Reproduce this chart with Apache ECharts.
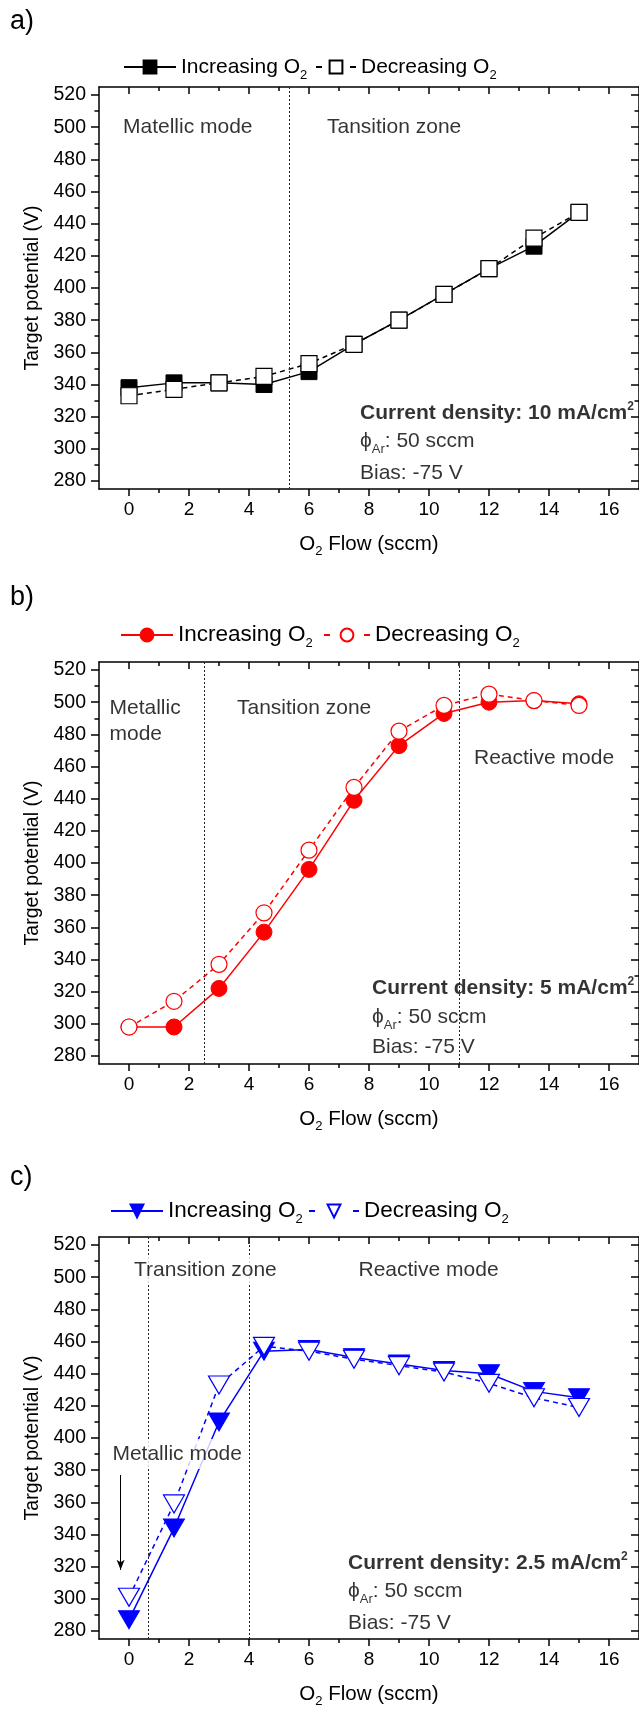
<!DOCTYPE html>
<html>
<head>
<meta charset="utf-8">
<script src="https://cdn.jsdelivr.net/npm/echarts@6/dist/echarts.min.js"></script>
<style>
  html, body { margin: 0; padding: 0; background: #fff; }
  #chart { width: 639px; height: 1712px; }
</style>
</head>
<body>
<div id="chart"></div>
<script>
// O2 flow set points (sccm)
const flow = [0, 1.5, 3, 4.5, 6, 7.5, 9, 10.5, 12, 13.5, 15];

// Target potential (V) at 10 mA/cm2
const incA = [338, 341, 341, 340, 348, 365, 380, 396, 412, 426, 447];
const decA = [333, 337, 341, 345, 353, 365, 380, 396, 412, 431, 447];

// Target potential (V) at 5 mA/cm2
const incB = [298, 298, 322, 357, 396, 439, 473, 493, 500, 501, 499];
const decB = [298, 314, 337, 369, 408, 447, 482, 498, 505, 501, 498];

// Target potential (V) at 2.5 mA/cm2
const incC = [287, 344, 410, 454, 455, 450, 446, 442, 440, 429, 425];
const decC = [301, 359, 433, 457, 454, 449, 445, 441, 434, 425, 419];

// Mode boundaries (sccm)
const boundA = [5.35];
const boundB = [2.5, 11];
const boundC = [0.65, 4.0];

// Tick values
const xMajor = [0, 2, 4, 6, 8, 10, 12, 14, 16];
const xMinor = [1, 3, 5, 7, 9, 11, 13, 15];
const yMajor = [280, 300, 320, 340, 360, 380, 400, 420, 440, 460, 480, 500, 520];
const yMinor = [290, 310, 330, 350, 370, 390, 410, 430, 450, 470, 490, 510];

const FONT = 'Liberation Sans, Arial, sans-serif';
const NOTE = 21;      // annotation font size

const richSub = {
  s: { fontSize: 13, verticalAlign: 'bottom', fontFamily: FONT, color: '#000' },
  b: { fontSize: NOTE, fontWeight: 'bold', fontFamily: FONT, color: '#000', lineHeight: 26 },
  bp: { fontSize: 12, fontWeight: 'bold', verticalAlign: 'top', fontFamily: FONT, color: '#000' },
  t: { fontSize: NOTE, fontFamily: FONT, color: '#000', lineHeight: 30 }
};

const panels = [
  {
    tag: 'a)', top: 87, legendTop: 47, legInc: 118, legDec: 310, legDecW: 40, legFont: 21,
    color: '#000', symbol: 'rect', size: 16, rotate: 0,
    inc: incA, dec: decA, bounds: boundA,
    notes: [
      { x: -0.2, y: 500, text: 'Matellic mode' },
      { x: 6.6, y: 500, text: 'Tansition zone' },
      { x: 7.7, y: 322, text: '{b|Current density: 10 mA/cm}{bp|2}' },
      { x: 7.7, y: 305, text: '{t|ϕ}{s|Ar}{t|: 50 sccm}' },
      { x: 7.7, y: 285, text: 'Bias: -75 V' }
    ]
  },
  {
    tag: 'b)', top: 662, legendTop: 615, legInc: 115, legDec: 318, legDecW: 46, legFont: 22.5,
    color: '#ff0000', symbol: 'circle', size: 16, rotate: 0,
    inc: incB, dec: decB, bounds: boundB,
    notes: [
      { x: -0.65, y: 488, text: 'Metallic\nmode' },
      { x: 3.6, y: 496, text: 'Tansition zone' },
      { x: 11.5, y: 465, text: 'Reactive mode' },
      { x: 8.1, y: 322, text: '{b|Current density: 5 mA/cm}{bp|2}' },
      { x: 8.1, y: 304, text: '{t|ϕ}{s|Ar}{t|: 50 sccm}' },
      { x: 8.1, y: 285.5, text: 'Bias: -75 V' }
    ]
  },
  {
    tag: 'c)', top: 1237, legendTop: 1191, legInc: 105, legDec: 303, legDecW: 50, legFont: 22.5,
    color: '#0000ff', symbol: 'triangle', size: [21, 18], rotate: 180,
    inc: incC, dec: decC, bounds: boundC,
    notes: [
      { x: 0.1, y: 504.5, text: 'Transition zone', bg: true },
      { x: 7.65, y: 504.5, text: 'Reactive mode' },
      { x: -0.62, y: 390, text: 'Metallic mode', bg: true },
      { x: 7.3, y: 322, text: '{b|Current density: 2.5 mA/cm}{bp|2}' },
      { x: 7.3, y: 305, text: '{t|ϕ}{s|Ar}{t|: 50 sccm}' },
      { x: 7.3, y: 285, text: 'Bias: -75 V' }
    ],
    arrow: [[-0.28, 377], [-0.28, 318]]
  }
];

const GRID_LEFT = 99, GRID_W = 540, GRID_H = 402;
const lineW = 1.5;

const grids = [], xAxes = [], yAxes = [], series = [], legends = [], graphics = [];

function xAxisDef(gi, pos, ticks, len, main) {
  return {
    gridIndex: gi, type: 'value', position: pos, min: -1, max: 17, interval: 1,
    axisLine: { show: main, onZero: false, lineStyle: { color: '#000', width: lineW } },
    axisTick: { show: true, inside: pos === 'top', length: len, customValues: ticks,
                lineStyle: { color: '#000', width: lineW } },
    axisLabel: { show: main && pos === 'bottom', customValues: xMajor, margin: 11,
                 fontSize: 19, color: '#000', fontFamily: FONT },
    splitLine: { show: false },
    name: main && pos === 'bottom' ? 'O{s|2} Flow (sccm)' : '',
    nameLocation: 'middle', nameGap: 41,
    nameTextStyle: { fontSize: 20.5, color: '#000', fontFamily: FONT, lineHeight: 28,
                     rich: { s: { fontSize: 13, verticalAlign: 'bottom', fontFamily: FONT, color: '#000' } } }
  };
}
function yAxisDef(gi, pos, ticks, len, main) {
  return {
    gridIndex: gi, type: 'value', position: pos, min: 275, max: 525, interval: 5,
    axisLine: { show: main, onZero: false, lineStyle: { color: '#000', width: lineW } },
    axisTick: { show: true, inside: pos === 'right', length: len, customValues: ticks,
                lineStyle: { color: '#000', width: lineW } },
    axisLabel: { show: main && pos === 'left', customValues: yMajor, margin: 13,
                 fontSize: 19.5, color: '#000', fontFamily: FONT },
    splitLine: { show: false },
    name: main && pos === 'left' ? 'Target potential (V)' : '',
    nameLocation: 'middle', nameGap: 55,
    nameTextStyle: { fontSize: 19.5, color: '#000', fontFamily: FONT }
  };
}

panels.forEach((p, i) => {
  grids.push({ left: GRID_LEFT, top: p.top, width: GRID_W, height: GRID_H, containLabel: false });
  const xb = xAxes.length;
  xAxes.push(xAxisDef(i, 'bottom', xMajor, 7, true));
  xAxes.push(xAxisDef(i, 'bottom', xMinor, 4, false));
  xAxes.push(xAxisDef(i, 'top', xMajor, 7, true));
  xAxes.push(xAxisDef(i, 'top', xMinor, 4, false));
  const yb = yAxes.length;
  yAxes.push(yAxisDef(i, 'left', yMajor, 8, true));
  yAxes.push(yAxisDef(i, 'left', yMinor, 4.5, false));
  yAxes.push(yAxisDef(i, 'right', yMajor, 8, true));
  yAxes.push(yAxisDef(i, 'right', yMinor, 4.5, false));

  const incName = 'inc' + i, decName = 'dec' + i;

  // Mode boundaries and annotation arrow
  const mlData = p.bounds.map(v => ({ xAxis: v }));
  const arrowData = p.arrow ? [[
    { coord: p.arrow[0], symbol: 'none', lineStyle: { type: 'solid', color: '#000', width: 1 } },
    { coord: p.arrow[1], symbol: 'arrow', symbolSize: [6, 10] }
  ]] : [];
  series.push({
    type: 'line', xAxisIndex: xb, yAxisIndex: yb, data: [], silent: true, z: 1,
    markLine: {
      silent: true, symbol: 'none', animation: false,
      label: { show: false },
      lineStyle: { type: [2, 2], color: '#222', width: 1 },
      data: mlData.concat(arrowData)
    }
  });

  series.push({
    name: incName, type: 'line', xAxisIndex: xb, yAxisIndex: yb, z: 3,
    data: flow.map((f, k) => [f, p.inc[k]]),
    symbol: p.symbol, symbolSize: p.size, symbolRotate: p.rotate, showAllSymbol: true,
    lineStyle: { color: p.color, width: 1.5, type: 'solid' },
    itemStyle: { color: p.color, borderColor: p.color, borderWidth: 1 },
    animation: false
  });
  series.push({
    name: decName, type: 'line', xAxisIndex: xb, yAxisIndex: yb, z: 4,
    data: flow.map((f, k) => [f, p.dec[k]]),
    symbol: p.symbol, symbolSize: p.size, symbolRotate: p.rotate, showAllSymbol: true,
    lineStyle: { color: p.color, width: 1.5, type: [5, 4] },
    itemStyle: { color: '#fff', borderColor: p.color, borderWidth: 1.2 },
    animation: false
  });

  // Annotation texts
  series.push({
    type: 'scatter', xAxisIndex: xb, yAxisIndex: yb, z: 6, silent: true, symbolSize: 0,
    animation: false,
    data: p.notes.map(n => ({
      value: [n.x, n.y],
      label: {
        show: true, position: 'right', distance: 0, formatter: n.text,
        fontSize: NOTE, color: '#000', fontFamily: FONT, lineHeight: 26,
        backgroundColor: n.bg ? '#fff' : 'transparent', padding: n.bg ? [2, 2] : 0,
        rich: richSub
      }
    }))
  });

  const legText = {
    fontSize: p.legFont, color: '#000', fontFamily: FONT, lineHeight: 30,
    rich: { s: { fontSize: 13, verticalAlign: 'bottom', fontFamily: FONT, color: '#000' } }
  };
  legends.push({
    data: [incName], left: p.legInc, top: p.legendTop, itemWidth: 52, itemHeight: 16,
    itemGap: 0, textStyle: legText, selectedMode: false, symbolRotate: 'inherit',
    formatter: () => 'Increasing O{s|2}'
  });
  // one short dash on each side of the open marker: "- o -"
  const dash = 6;
  legends.push({
    data: [decName], left: p.legDec, top: p.legendTop, itemWidth: p.legDecW, itemHeight: 16,
    itemGap: 0, textStyle: legText, selectedMode: false, symbolRotate: 'inherit',
    lineStyle: { type: [dash, p.legDecW - 2 * dash] },
    formatter: () => 'Decreasing O{s|2}'
  });

  graphics.push({
    type: 'text', left: 10, top: [8, 584, 1164][i],
    style: { text: p.tag, fontSize: 27, fontFamily: FONT, fill: '#000' }
  });
});

const chart = echarts.init(document.getElementById('chart'), null, { renderer: 'canvas' });
chart.setOption({
  backgroundColor: '#fff',
  animation: false,
  grid: grids,
  xAxis: xAxes,
  yAxis: yAxes,
  legend: legends,
  series: series,
  graphic: graphics
});
</script>
</body>
</html>
